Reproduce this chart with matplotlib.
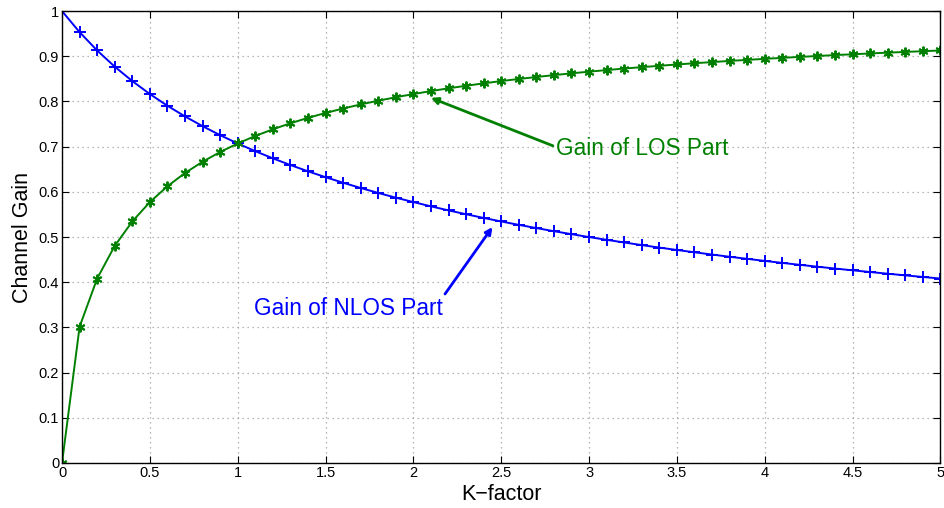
import matplotlib
matplotlib.use("Agg")
import matplotlib.pyplot as plt

# K-factor grid and read-off channel gains
k_factor = [0.0, 0.1, 0.2, 0.3, 0.4, 0.5, 0.6, 0.7, 0.8, 0.9,
            1.0, 1.1, 1.2, 1.3, 1.4, 1.5, 1.6, 1.7, 1.8, 1.9,
            2.0, 2.1, 2.2, 2.3, 2.4, 2.5, 2.6, 2.7, 2.8, 2.9,
            3.0, 3.1, 3.2, 3.3, 3.4, 3.5, 3.6, 3.7, 3.8, 3.9,
            4.0, 4.1, 4.2, 4.3, 4.4, 4.5, 4.6, 4.7, 4.8, 4.9, 5.0]

gain_nlos = [1.000, 0.9535, 0.9129, 0.8771, 0.8452, 0.8165, 0.7906, 0.7670, 0.7454, 0.7255,
             0.7071, 0.6901, 0.6742, 0.6594, 0.6455, 0.6325, 0.6202, 0.6086, 0.5976, 0.5872,
             0.5774, 0.5680, 0.5590, 0.5505, 0.5423, 0.5345, 0.5270, 0.5199, 0.5130, 0.5064,
             0.5000, 0.4939, 0.4880, 0.4822, 0.4767, 0.4714, 0.4663, 0.4613, 0.4564, 0.4518,
             0.4472, 0.4428, 0.4385, 0.4344, 0.4303, 0.4264, 0.4226, 0.4189, 0.4152, 0.4117, 0.4082]

gain_los = [0.000, 0.3015, 0.4082, 0.4804, 0.5345, 0.5774, 0.6124, 0.6417, 0.6667, 0.6882,
            0.7071, 0.7237, 0.7385, 0.7518, 0.7638, 0.7746, 0.7845, 0.7935, 0.8018, 0.8094,
            0.8165, 0.8230, 0.8292, 0.8348, 0.8402, 0.8452, 0.8498, 0.8542, 0.8584, 0.8623,
            0.8660, 0.8695, 0.8729, 0.8760, 0.8790, 0.8819, 0.8847, 0.8872, 0.8898, 0.8921,
            0.8944, 0.8966, 0.8987, 0.9007, 0.9027, 0.9045, 0.9063, 0.9081, 0.9097, 0.9113, 0.9129]

x_ticks = [0, 0.5, 1, 1.5, 2, 2.5, 3, 3.5, 4, 4.5, 5]
x_tick_labels = ["0", "0.5", "1", "1.5", "2", "2.5", "3", "3.5", "4", "4.5", "5"]
y_ticks = [0, 0.1, 0.2, 0.3, 0.4, 0.5, 0.6, 0.7, 0.8, 0.9, 1]
y_tick_labels = ["0", "0.1", "0.2", "0.3", "0.4", "0.5", "0.6", "0.7", "0.8", "0.9", "1"]

BLUE = "#0000ff"
GREEN = "#008000"

plt.rcParams["font.family"] = ["Liberation Sans", "DejaVu Sans"]

fig = plt.figure(figsize=(9.44, 5.08), dpi=100)
ax = fig.add_axes([0.0657, 0.0886, 0.9305, 0.8895])

ax.plot(k_factor, gain_nlos, color=BLUE, lw=1.4, marker="+", ms=8, mew=1.4)
ax.plot(k_factor, gain_los, color=GREEN, lw=1.4, marker=(6, 2, 0), ms=7, mew=1.4)

ax.set_xlim(0, 5)
ax.set_ylim(0, 1)
ax.set_xticks(x_ticks)
ax.set_xticklabels(x_tick_labels)
ax.set_yticks(y_ticks)
ax.set_yticklabels(y_tick_labels)
ax.tick_params(direction="in", labelsize=10.5, length=5, pad=2, top=True, right=True)
ax.grid(True, color="#a0a0a0", ls=(0, (1, 3)), lw=0.9)
for sp in ax.spines.values():
    sp.set_linewidth(1.0)

ax.set_xlabel("K\u2212factor", fontsize=15.5, labelpad=3)
ax.set_ylabel("Channel Gain", fontsize=15.5, labelpad=4)

ax.annotate("Gain of LOS Part", xy=(2.10, 0.808), xytext=(2.81, 0.697),
            color=GREEN, fontsize=16.3, ha="left", va="center",
            arrowprops=dict(arrowstyle="-|>", color=GREEN, lw=2.0,
                            mutation_scale=10, shrinkA=0, shrinkB=0,
                            relpos=(0.0, 0.55)))
ax.annotate("", xy=(2.45, 0.522), xytext=(2.18, 0.374),
            arrowprops=dict(arrowstyle="-|>", color=BLUE, lw=2.0,
                            mutation_scale=10, shrinkA=0, shrinkB=0))
ax.text(1.09, 0.343, "Gain of NLOS Part", color=BLUE, fontsize=16.3,
        ha="left", va="center")

fig.savefig("out.png", dpi=100)
